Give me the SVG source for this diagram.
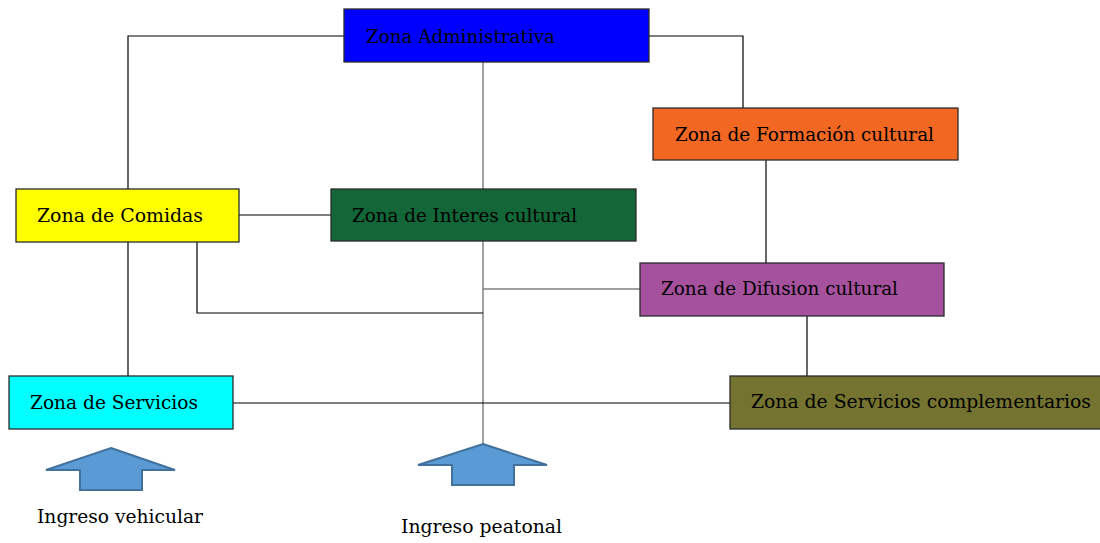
<svg xmlns="http://www.w3.org/2000/svg" width="1100" height="543" viewBox="0 0 1100 543">
<style>
.box{stroke:#2b2b2b;stroke-width:1.3}
.t{font-family:"DejaVu Serif","Liberation Serif",serif;font-size:19px;fill:#000}
.c{fill:none;stroke:#000;stroke-width:1.2}
.g{fill:none;stroke:#808080;stroke-width:1.5}
.arr{fill:#5B9BD5;stroke:#41719C;stroke-width:2}
</style>
<rect width="1100" height="543" fill="#fff"/>
<g id="connectors">
<polyline class="c" points="344,36 128,36 128,189"/>
<polyline class="c" points="649,36 743,36 743,108"/>
<line class="g" x1="483" y1="62" x2="483" y2="189"/>
<line class="g" x1="483" y1="241" x2="483" y2="445"/>
<line class="c" x1="239" y1="215" x2="331" y2="215"/>
<line class="c" x1="128" y1="242" x2="128" y2="376"/>
<polyline class="c" points="197,242 197,313 483,313"/>
<line class="c" x1="766" y1="160" x2="766" y2="263"/>
<line class="g" x1="483" y1="289" x2="640" y2="289"/>
<line class="c" x1="807" y1="316" x2="807" y2="376"/>
<line class="c" x1="233" y1="403" x2="730" y2="403"/>
</g>
<g id="admin"><rect class="box" x="344" y="9" width="305" height="53" fill="#0000FF"/><text class="t" x="366" y="43" textLength="189" lengthAdjust="spacingAndGlyphs">Zona Administrativa</text></g>
<g id="formacion"><rect class="box" x="653" y="108" width="305" height="52" fill="#F26722"/><text class="t" x="675" y="141" textLength="259" lengthAdjust="spacingAndGlyphs">Zona de Formación cultural</text></g>
<g id="comidas"><rect class="box" x="16" y="189" width="223" height="53" fill="#FFFF00"/><text class="t" x="37" y="222" textLength="166" lengthAdjust="spacingAndGlyphs">Zona de Comidas</text></g>
<g id="interes"><rect class="box" x="331" y="189" width="305" height="52" fill="#126637"/><text class="t" x="352" y="222" textLength="225" lengthAdjust="spacingAndGlyphs">Zona de Interes cultural</text></g>
<g id="difusion"><rect class="box" x="640" y="263" width="304" height="53" fill="#A5519D"/><text class="t" x="661" y="295" textLength="237" lengthAdjust="spacingAndGlyphs">Zona de Difusion cultural</text></g>
<g id="servicios"><rect class="box" x="9" y="376" width="224" height="53" fill="#00FFFF"/><text class="t" x="30" y="409" textLength="168" lengthAdjust="spacingAndGlyphs">Zona de Servicios</text></g>
<g id="complementarios"><rect class="box" x="730" y="376" width="372" height="53" fill="#74732F"/><text class="t" x="751" y="408" textLength="340" lengthAdjust="spacingAndGlyphs">Zona de Servicios complementarios</text></g>
<g id="ingreso-vehicular"><polygon class="arr" points="111,448 175,470 142,470 142,490 80,490 80,470 46,470"/><text class="t" x="37" y="523" textLength="166" lengthAdjust="spacingAndGlyphs">Ingreso vehicular</text></g>
<g id="ingreso-peatonal"><polygon class="arr" points="483,444 547,465 514,465 514,485 452,485 452,465 418,465"/><text class="t" x="401" y="533" textLength="161" lengthAdjust="spacingAndGlyphs">Ingreso peatonal</text></g>
</svg>
